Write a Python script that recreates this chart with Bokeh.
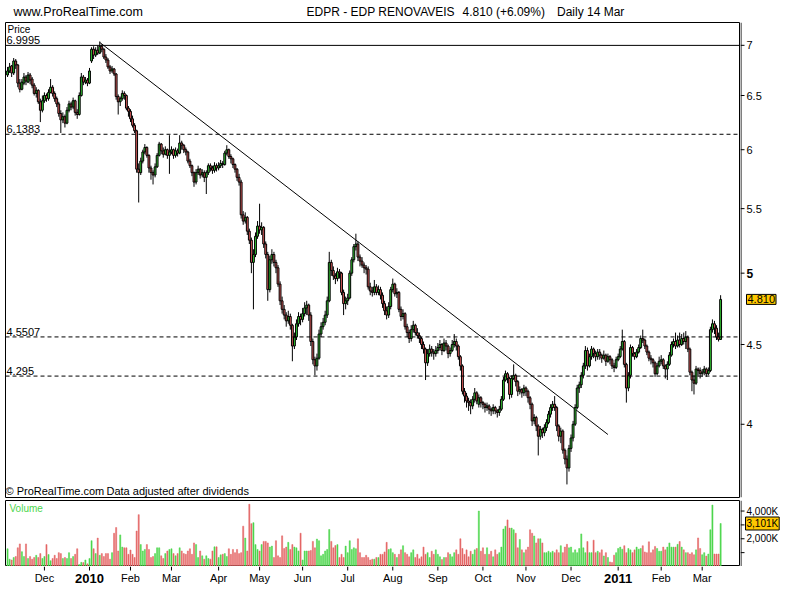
from bokeh.plotting import figure
from bokeh.layouts import column, row
from bokeh.models import Range1d, Span, Label
from bokeh.embed import file_html
from bokeh.resources import INLINE

# ---------------- data (EDPR daily, Nov 2009 - 14 Mar 2011) ----------------
opens = [
    6.70, 6.74, 6.79, 6.72, 6.84, 6.80, 6.62, 6.56, 6.62, 6.68, 6.63, 6.70, 6.66, 6.60, 6.52, 6.55, 6.44, 6.36,
    6.45, 6.50, 6.47, 6.53, 6.58, 6.52, 6.47, 6.42, 6.33, 6.27, 6.30, 6.24, 6.36, 6.42, 6.39, 6.45, 6.34, 6.32, 6.50, 6.68, 6.63, 6.65,
    6.62, 6.84, 6.96, 6.90, 6.95, 6.92, 6.99, 6.96, 6.88, 6.85, 6.78, 6.74, 6.76, 6.71, 6.49, 6.44, 6.47, 6.52, 6.50, 6.38,
    6.35, 6.28, 6.22, 6.17, 5.83, 5.80, 5.90, 5.98, 6.02, 5.95, 5.84, 5.80, 5.78, 5.85, 5.95, 6.05, 5.99, 5.96, 6.00, 5.95,
    5.98, 6.00, 5.95, 5.99, 5.97, 6.06, 6.04, 6.00, 5.98, 5.90, 5.86, 5.80, 5.72, 5.80, 5.83, 5.78, 5.80, 5.76, 5.80, 5.86, 5.84, 5.82, 5.86,
    5.84, 5.86, 5.88, 5.87, 5.97, 6.00, 5.94, 5.92, 5.87, 5.83, 5.76, 5.72, 5.45, 5.40, 5.43, 5.32, 5.25, 5.08, 5.14, 5.28,
    5.36, 5.33, 5.35, 5.22, 5.14, 4.88, 5.10, 5.14, 5.08, 5.04, 4.92, 4.80, 4.74, 4.70, 4.66, 4.69, 4.63, 4.49, 4.55, 4.64, 4.69,
    4.67, 4.71, 4.75, 4.77, 4.70, 4.52, 4.40, 4.36, 4.41, 4.57, 4.62, 4.65, 4.70, 4.80, 5.08, 5.02, 4.98, 4.96, 5.01, 5.00, 4.86, 4.78,
    4.80, 4.82, 5.00, 5.10, 5.20, 5.22, 5.12, 5.09, 5.06, 5.04, 5.03, 4.90, 4.87, 4.86, 4.90, 4.86, 4.88, 4.84, 4.78, 4.73, 4.70, 4.76,
    4.88, 4.92, 4.85, 4.86, 4.74, 4.69, 4.71, 4.62, 4.58, 4.54, 4.60, 4.63, 4.58, 4.56, 4.54, 4.50, 4.47, 4.38, 4.44, 4.47, 4.45, 4.44,
    4.46, 4.48, 4.50, 4.46, 4.51, 4.49, 4.44, 4.46, 4.50, 4.52, 4.49, 4.42, 4.36, 4.20, 4.17, 4.14, 4.13, 4.11, 4.15, 4.19, 4.12, 4.16,
    4.13, 4.12, 4.10, 4.11, 4.09, 4.08, 4.10, 4.08, 4.07, 4.09, 4.15, 4.27, 4.31, 4.28, 4.18, 4.28, 4.30, 4.26, 4.20, 4.21, 4.19,
    4.22, 4.20, 4.16, 4.12, 4.02, 4.04, 3.99, 3.93, 3.97, 3.95, 3.98, 4.01, 4.06, 4.10, 4.12, 4.10, 3.99, 3.93, 3.96, 3.85, 3.80, 3.75,
    3.86, 3.92, 4.00, 4.10, 4.22, 4.24, 4.30, 4.36, 4.46, 4.36, 4.42, 4.47, 4.44, 4.42, 4.45, 4.43, 4.41, 4.43, 4.39, 4.42, 4.40, 4.36, 4.35,
    4.40, 4.42, 4.47, 4.52, 4.37, 4.22, 4.30, 4.48, 4.44, 4.42, 4.45, 4.48, 4.54, 4.53, 4.49, 4.45, 4.41, 4.40, 4.38, 4.31, 4.36,
    4.39, 4.40, 4.36, 4.34, 4.37, 4.43, 4.50, 4.52, 4.49, 4.53, 4.50, 4.54, 4.52, 4.55, 4.47, 4.32, 4.27, 4.25, 4.34, 4.33,
    4.31, 4.32, 4.34, 4.31, 4.33, 4.60, 4.64, 4.61, 4.55, 4.534,
]
highs = [
    6.78, 6.82, 6.80, 6.87, 6.86, 6.81, 6.66, 6.66, 6.72, 6.70, 6.73, 6.72, 6.68, 6.62, 6.58, 6.56, 6.47, 6.50,
    6.53, 6.52, 6.56, 6.66, 6.60, 6.54, 6.49, 6.44, 6.36, 6.34, 6.32, 6.39, 6.45, 6.44, 6.48, 6.46, 6.37, 6.53, 6.72, 6.70, 6.68, 6.67,
    6.77, 6.98, 6.99, 6.98, 7.00, 7.04, 7.01, 6.97, 6.91, 6.87, 6.80, 6.79, 6.77, 6.72, 6.51, 6.49, 6.55, 6.54, 6.51, 6.40,
    6.37, 6.31, 6.24, 6.18, 5.88, 5.93, 6.00, 6.05, 6.03, 5.96, 5.86, 5.82, 5.88, 5.97, 6.07, 6.06, 6.02, 6.03, 6.01, 6.13,
    6.03, 6.01, 6.02, 6.01, 6.13, 6.08, 6.05, 6.02, 5.99, 5.92, 5.87, 5.81, 5.83, 5.86, 5.84, 5.83, 5.82, 5.82, 5.88, 5.88, 5.86, 5.89, 5.88,
    5.89, 5.91, 5.90, 5.99, 6.04, 6.01, 5.96, 5.93, 5.88, 5.84, 5.79, 5.74, 5.48, 5.47, 5.44, 5.34, 5.27, 5.18, 5.31, 5.40,
    5.54, 5.39, 5.36, 5.24, 5.16, 5.13, 5.18, 5.16, 5.10, 5.06, 4.94, 4.83, 4.77, 4.72, 4.73, 4.71, 4.64, 4.58, 4.67, 4.72, 4.71,
    4.75, 4.79, 4.80, 4.78, 4.72, 4.54, 4.42, 4.44, 4.60, 4.65, 4.68, 4.73, 4.83, 5.16, 5.10, 5.05, 5.00, 5.04, 5.03, 5.01, 4.88, 4.83,
    4.85, 5.02, 5.12, 5.22, 5.30, 5.24, 5.14, 5.12, 5.08, 5.06, 5.05, 4.93, 4.90, 4.95, 4.92, 4.91, 4.90, 4.86, 4.80, 4.76, 4.79, 4.90,
    4.96, 4.93, 4.89, 4.87, 4.76, 4.74, 4.72, 4.64, 4.60, 4.63, 4.66, 4.64, 4.61, 4.58, 4.55, 4.52, 4.48, 4.47, 4.50, 4.49, 4.47, 4.49,
    4.51, 4.53, 4.51, 4.54, 4.53, 4.50, 4.48, 4.53, 4.57, 4.54, 4.50, 4.43, 4.37, 4.22, 4.19, 4.16, 4.15, 4.17, 4.22, 4.20, 4.18, 4.17,
    4.14, 4.13, 4.13, 4.12, 4.10, 4.12, 4.11, 4.09, 4.11, 4.17, 4.29, 4.33, 4.32, 4.29, 4.30, 4.37, 4.31, 4.27, 4.23, 4.22, 4.24,
    4.23, 4.21, 4.17, 4.13, 4.06, 4.05, 4.00, 3.99, 3.98, 4.00, 4.03, 4.08, 4.12, 4.14, 4.17, 4.11, 4.00, 3.98, 3.97, 3.86, 3.82, 3.88,
    3.94, 4.02, 4.12, 4.24, 4.26, 4.32, 4.38, 4.49, 4.48, 4.44, 4.49, 4.48, 4.46, 4.47, 4.47, 4.44, 4.46, 4.44, 4.44, 4.43, 4.41, 4.38, 4.42,
    4.44, 4.49, 4.60, 4.53, 4.38, 4.32, 4.50, 4.49, 4.45, 4.47, 4.50, 4.56, 4.60, 4.54, 4.50, 4.46, 4.43, 4.41, 4.39, 4.38, 4.42,
    4.43, 4.41, 4.37, 4.39, 4.45, 4.52, 4.54, 4.58, 4.56, 4.58, 4.57, 4.58, 4.59, 4.56, 4.48, 4.33, 4.30, 4.36, 4.35, 4.35,
    4.34, 4.36, 4.35, 4.35, 4.62, 4.67, 4.66, 4.63, 4.58, 4.84,
]
lows = [
    6.68, 6.72, 6.68, 6.70, 6.76, 6.58, 6.53, 6.55, 6.60, 6.60, 6.62, 6.61, 6.57, 6.50, 6.48, 6.42, 6.25, 6.34,
    6.43, 6.44, 6.45, 6.52, 6.49, 6.44, 6.39, 6.30, 6.15, 6.24, 6.20, 6.23, 6.34, 6.36, 6.37, 6.31, 6.28, 6.31, 6.49, 6.60, 6.61, 6.59,
    6.61, 6.82, 6.86, 6.88, 6.90, 6.91, 6.93, 6.86, 6.82, 6.76, 6.71, 6.72, 6.69, 6.46, 6.32, 6.40, 6.45, 6.46, 6.36, 6.30,
    6.25, 6.20, 6.15, 5.80, 5.55, 5.78, 5.88, 5.96, 5.93, 5.80, 5.74, 5.70, 5.76, 5.84, 5.94, 5.96, 5.93, 5.95, 5.92, 5.79,
    5.96, 5.92, 5.93, 5.94, 5.96, 6.00, 5.97, 5.95, 5.88, 5.84, 5.77, 5.68, 5.70, 5.78, 5.75, 5.76, 5.72, 5.62, 5.78, 5.81, 5.79, 5.80, 5.81,
    5.82, 5.84, 5.84, 5.86, 5.95, 5.92, 5.88, 5.84, 5.80, 5.73, 5.69, 5.42, 5.37, 5.38, 5.29, 5.22, 5.00, 4.74, 5.12, 5.26,
    5.30, 5.29, 5.19, 5.11, 4.80, 4.86, 5.07, 5.05, 5.00, 4.90, 4.77, 4.71, 4.67, 4.62, 4.64, 4.60, 4.39, 4.47, 4.53, 4.62, 4.63,
    4.65, 4.69, 4.70, 4.66, 4.49, 4.37, 4.30, 4.33, 4.40, 4.55, 4.60, 4.63, 4.68, 4.79, 4.98, 4.95, 4.92, 4.94, 4.96, 4.84, 4.70, 4.74,
    4.77, 4.81, 4.98, 5.08, 5.17, 5.09, 5.05, 5.04, 5.00, 4.99, 4.88, 4.84, 4.83, 4.84, 4.84, 4.84, 4.81, 4.75, 4.70, 4.67, 4.68, 4.74,
    4.86, 4.83, 4.82, 4.72, 4.66, 4.67, 4.60, 4.55, 4.51, 4.52, 4.58, 4.56, 4.54, 4.51, 4.47, 4.44, 4.27, 4.36, 4.42, 4.42, 4.40, 4.42,
    4.44, 4.46, 4.43, 4.45, 4.46, 4.41, 4.42, 4.45, 4.48, 4.46, 4.40, 4.33, 4.18, 4.13, 4.10, 4.08, 4.06, 4.09, 4.13, 4.12, 4.10, 4.10,
    4.09, 4.07, 4.08, 4.06, 4.05, 4.06, 4.06, 4.04, 4.05, 4.08, 4.14, 4.26, 4.25, 4.15, 4.16, 4.27, 4.23, 4.17, 4.18, 4.16, 4.17,
    4.17, 4.13, 4.09, 3.99, 4.00, 3.96, 3.82, 3.91, 3.92, 3.93, 3.96, 4.00, 4.04, 4.08, 4.08, 3.96, 3.90, 3.89, 3.83, 3.77, 3.66, 3.73,
    3.84, 3.90, 3.99, 4.09, 4.19, 4.22, 4.28, 4.34, 4.33, 4.35, 4.40, 4.41, 4.39, 4.40, 4.40, 4.38, 4.40, 4.36, 4.38, 4.37, 4.34, 4.32, 4.34,
    4.39, 4.41, 4.46, 4.35, 4.13, 4.20, 4.28, 4.42, 4.40, 4.41, 4.44, 4.47, 4.51, 4.47, 4.43, 4.39, 4.37, 4.35, 4.29, 4.30, 4.35,
    4.37, 4.34, 4.28, 4.27, 4.36, 4.42, 4.48, 4.47, 4.48, 4.48, 4.49, 4.50, 4.47, 4.45, 4.30, 4.20, 4.18, 4.24, 4.29, 4.28,
    4.29, 4.30, 4.29, 4.30, 4.32, 4.58, 4.57, 4.53, 4.52, 4.53,
]
closes = [
    6.74, 6.78, 6.72, 6.84, 6.80, 6.62, 6.56, 6.63, 6.68, 6.64, 6.70, 6.65, 6.60, 6.52, 6.55, 6.44, 6.36, 6.45,
    6.50, 6.47, 6.53, 6.58, 6.52, 6.47, 6.42, 6.33, 6.27, 6.30, 6.24, 6.36, 6.42, 6.39, 6.45, 6.34, 6.32, 6.50, 6.68, 6.63, 6.65, 6.62,
    6.74, 6.96, 6.90, 6.95, 6.92, 6.99, 6.96, 6.88, 6.85, 6.78, 6.74, 6.76, 6.71, 6.49, 6.44, 6.47, 6.52, 6.50, 6.38, 6.35,
    6.28, 6.22, 6.17, 5.83, 5.80, 5.90, 5.98, 6.02, 5.95, 5.84, 5.80, 5.78, 5.85, 5.95, 6.05, 5.99, 5.96, 6.00, 5.95, 5.98,
    6.00, 5.95, 5.99, 5.97, 6.06, 6.04, 6.00, 5.98, 5.90, 5.86, 5.80, 5.72, 5.80, 5.83, 5.78, 5.80, 5.76, 5.80, 5.86, 5.84, 5.82, 5.86, 5.84,
    5.86, 5.88, 5.87, 5.97, 6.00, 5.94, 5.92, 5.87, 5.83, 5.76, 5.72, 5.45, 5.40, 5.43, 5.32, 5.25, 5.08, 5.14, 5.28, 5.36,
    5.33, 5.35, 5.22, 5.14, 4.88, 5.10, 5.14, 5.08, 5.04, 4.92, 4.80, 4.74, 4.70, 4.66, 4.69, 4.63, 4.49, 4.55, 4.64, 4.69, 4.67,
    4.71, 4.75, 4.77, 4.70, 4.52, 4.40, 4.36, 4.41, 4.57, 4.62, 4.65, 4.70, 4.80, 5.08, 5.02, 4.98, 4.96, 5.01, 5.00, 4.86, 4.78, 4.80,
    4.82, 5.00, 5.10, 5.20, 5.22, 5.12, 5.09, 5.06, 5.04, 5.03, 4.90, 4.87, 4.86, 4.90, 4.86, 4.88, 4.84, 4.78, 4.73, 4.70, 4.76, 4.88,
    4.92, 4.85, 4.86, 4.74, 4.69, 4.71, 4.62, 4.58, 4.54, 4.60, 4.63, 4.58, 4.56, 4.54, 4.50, 4.47, 4.38, 4.44, 4.47, 4.45, 4.44, 4.46,
    4.48, 4.50, 4.46, 4.51, 4.49, 4.44, 4.46, 4.50, 4.52, 4.49, 4.42, 4.36, 4.20, 4.17, 4.14, 4.13, 4.11, 4.15, 4.19, 4.14, 4.16, 4.13,
    4.12, 4.10, 4.11, 4.09, 4.08, 4.10, 4.08, 4.07, 4.09, 4.15, 4.27, 4.31, 4.28, 4.18, 4.28, 4.30, 4.26, 4.20, 4.21, 4.19, 4.22,
    4.20, 4.16, 4.12, 4.02, 4.04, 3.99, 3.93, 3.97, 3.95, 3.98, 4.01, 4.06, 4.10, 4.12, 4.10, 3.99, 3.93, 3.96, 3.85, 3.80, 3.75, 3.86,
    3.92, 4.00, 4.10, 4.22, 4.24, 4.30, 4.36, 4.46, 4.36, 4.42, 4.47, 4.44, 4.42, 4.45, 4.43, 4.41, 4.43, 4.39, 4.42, 4.40, 4.36, 4.35, 4.40,
    4.42, 4.47, 4.52, 4.37, 4.22, 4.30, 4.48, 4.44, 4.42, 4.45, 4.48, 4.54, 4.53, 4.49, 4.45, 4.41, 4.40, 4.38, 4.31, 4.36, 4.39,
    4.40, 4.36, 4.34, 4.37, 4.43, 4.50, 4.52, 4.49, 4.53, 4.50, 4.54, 4.52, 4.55, 4.47, 4.32, 4.27, 4.25, 4.34, 4.33, 4.31,
    4.32, 4.34, 4.31, 4.33, 4.60, 4.64, 4.61, 4.55, 4.534, 4.81,
]
volumes_k = [
    1280, 530, 470, 650, 720, 1350, 1630, 1070, 720,
    1630, 580, 720, 530, 650, 810, 650, 930, 580, 720, 1580, 860, 420, 580, 810, 580, 1000, 930, 580,
    650, 580, 1000, 580, 720, 880, 1280, 140, 300, 280, 470, 190, 580, 1860, 1280, 930, 2050, 810, 930, 720,
    930, 930, 530, 1000, 2400, 2810, 1120, 2280, 1400, 1350, 1350, 880, 1190, 880, 650, 2560, 3740, 1580, 1120, 1230,
    1580, 1230, 650, 720, 930, 1350, 1350, 770, 580, 930, 1120, 1230, 1280, 930,
    770, 930, 1350, 1120, 930, 880, 1120, 1280, 880, 1700, 1580, 650, 1120, 770,
    530, 770, 580, 530, 1120, 1420, 1420, 650, 840, 880, 930, 720, 1280, 880, 1230, 1000, 1230, 930, 1000, 2910,
    2050, 1120, 4490, 3090, 3160, 1580, 1230, 1120, 1580, 1810, 1810, 1700, 1400, 1470, 650, 1860, 770, 650, 2210, 1300,
    1400, 1740, 1230, 1580, 1400, 1350, 1120, 2400, 470,
    1120, 1120, 1120, 1160, 1810, 1350, 1980, 1860, 770, 880, 1120, 1230, 2670, 1810, 1350, 1510, 1580, 650, 880,
    650, 1470, 1000, 1860, 1230, 1350, 1280, 2000, 1000, 650, 650, 810, 650, 470,
    530, 530, 650, 650, 880, 880, 1050, 1740, 1230, 1280, 1000, 880,
    650, 880, 1200, 1500, 1000, 880, 700, 1000, 1200, 650, 880, 560, 700, 1400, 880, 1000, 650, 1100, 880, 1200,
    880, 700, 500, 650, 650, 1000, 880, 700, 1000, 1200, 880, 2000, 1300, 880, 1200, 700, 1100, 880, 1200, 1300, 4000, 1100,
    1350, 880, 1350, 880, 1100, 700, 1200, 880, 1000, 1400, 2700, 2900, 3360, 2770, 2770, 2650, 2400, 1350, 1950, 1200, 1000,
    1200, 1400, 2650, 2400, 2200, 1700, 2000, 2000, 1700, 1000, 1000, 1100, 1000, 1100, 1000, 1200, 1000, 1500, 1000, 1400, 1600, 1350,
    1400, 1000, 1200, 1000, 1300, 2350, 1350, 1000, 1800, 1000, 1000, 1900, 1000, 1100, 1000, 1200, 760, 1000, 650, 330, 290, 820, 1000,
    1300, 1400, 1250, 1500, 1000, 1300, 1200, 1000, 1200, 1400, 1250, 1300, 1500, 1050, 1000, 1780, 1000, 1200, 1450, 1300, 1100,
    1100, 1400, 1200, 1400, 1700, 1400, 1400, 1400, 1600, 1800, 1400, 1200, 1000, 1000, 900, 1000, 850, 1200, 2060, 1300,
    850, 1000, 750, 900, 2650, 4430, 900, 900, 900, 3101,
]
month_ticks = [18, 40, 60, 80, 103, 123, 144, 166, 188, 210, 232, 253, 275, 298, 319, 339]
month_labels = ["Dec", "2010", "Feb", "Mar", "Apr", "May", "Jun", "Jul", "Aug", "Sep",
                "Oct", "Nov", "Dec", "2011", "Feb", "Mar"]
year_labels = ["2010", "2011"]
price_ticks = [4, 4.5, 5, 5.5, 6, 6.5, 7]
price_tick_labels = ["4", "4.5", "5", "5.5", "6", "6.5", "7"]
solid_level = 6.9995
dashed_levels = [6.1383, 4.5507, 4.295]
level_texts = ["6.9995", "6.1383", "4.5507", "4.295"]
trend_x = [45, 293]
trend_y = [7.03, 3.94]
vol_ticks_k = [1000, 2000, 3000, 4000]
vol_tick_labels = ["", "2,000K", "", "4,000K"]
last_price_text = "4.810"
last_volume_text = "3,101K"
title_left = "www.ProRealTime.com"
title_parts = ["EDPR - EDP RENOVAVEIS", "4.810 (+6.09%)", "Daily  14 Mar"]

# ---------------- styling / geometry ----------------
FONT = "Liberation Sans"
C_UP = "#33CC33"
C_DN = "#E05C5C"
V_UP = "#4CD64C"
V_DN = "#E46666"
BOX = "#FFC800"

TOTAL_W = 784
LEFT_W = 740      # left column width (frame starts 5 px in)
AX_W = TOTAL_W - LEFT_W
TITLE_H = 22
P_H = 478         # price pane (frame 475 + 3 gap)
V_H = 66          # volume pane frame
X_H = 18          # month labels row

n = min(len(opens), len(highs), len(lows), len(closes), len(volumes_k))
idx = list(range(n))
o, h, l, c = opens[:n], highs[:n], lows[:n], closes[:n]
body_top = [max(a, b) for a, b in zip(o, c)]
body_bot = [min(a, b) for a, b in zip(o, c)]
cols = [C_UP if b >= a else C_DN for a, b in zip(o, c)]
vcols = [V_UP if b >= a else V_DN for a, b in zip(o, c)]


def blank(width, height, x_range, y_range, y_log=False, left=0, bottom=0, outline=False):
    f = figure(width=width, height=height, x_range=x_range, y_range=y_range,
               y_axis_type="log" if y_log else "linear",
               x_axis_location=None, y_axis_location=None,
               toolbar_location=None, output_backend="svg",
               min_border_left=left, min_border_right=0, min_border_top=0, min_border_bottom=bottom)
    f.grid.visible = False
    f.background_fill_color = "white"
    f.border_fill_color = "white"
    f.outline_line_color = "black" if outline else None
    return f


xr = Range1d(-1, 357.7)
pr = Range1d(3.59, 7.24)
vr = Range1d(0, 4760)

# ---------------- title row ----------------
t = blank(TOTAL_W, TITLE_H, Range1d(0, TOTAL_W), Range1d(0, TITLE_H))
t.add_layout(Label(x=8, y=11, text=title_left, text_baseline="middle",
                   text_font=FONT, text_font_size="12.5px", text_color="black"))
for xx, s in zip([303, 460, 555], title_parts):
    t.add_layout(Label(x=xx, y=11, text=s, text_baseline="middle",
                       text_font=FONT, text_font_size="12px", text_color="black"))

# ---------------- price pane ----------------
p1 = blank(LEFT_W, P_H, xr, pr, y_log=True, left=5, bottom=3, outline=True)
p1.add_layout(Span(location=solid_level, dimension="width", line_color="black", line_width=1))
for lv in dashed_levels:
    p1.add_layout(Span(location=lv, dimension="width", line_color="black", line_width=1, line_dash="4 3"))
for lv, tx in zip([solid_level] + dashed_levels, level_texts):
    p1.add_layout(Label(x=1, y=lv, x_units="screen", text=tx, text_baseline="bottom", y_offset=1,
                        text_font=FONT, text_font_size="11px", text_color="black"))
p1.line(trend_x, trend_y, line_color="black", line_width=1)
p1.segment(x0=idx, y0=l, x1=idx, y1=h, line_color="black", line_width=1)
p1.vbar(x=idx, bottom=body_bot, top=body_top, width=0.9, fill_color=cols, line_color="black", line_width=1)
p1.add_layout(Label(x=2, y=468, x_units="screen", y_units="screen", text="Price",
                    text_baseline="middle", text_font=FONT, text_font_size="10px", text_color="black"))
p1.add_layout(Label(x=0, y=7, x_units="screen", y_units="screen", text="\u00a9 ProRealTime.com",
                    text_baseline="middle", text_font=FONT, text_font_size="11px", text_color="black"))
p1.add_layout(Label(x=101, y=7, x_units="screen", y_units="screen", text="Data adjusted after dividends",
                    text_baseline="middle", text_font=FONT, text_font_size="11px", text_color="black"))

# price axis panel (right)
a1 = blank(AX_W, P_H, Range1d(0, AX_W), pr, y_log=True, bottom=3)
a1.segment(x0=[0] * len(price_ticks), y0=price_ticks, x1=[4] * len(price_ticks), y1=price_ticks,
           line_color="black", line_width=1)
a1.segment(x0=[0.5], y0=[pr.start], x1=[0.5], y1=[pr.end], line_color="black", line_width=1)
for tv, s in zip(price_ticks, price_tick_labels):
    bold = (s == "5")
    a1.add_layout(Label(x=6, y=tv, text=s, text_baseline="middle", text_font=FONT,
                        text_font_size="12px" if bold else "11px",
                        text_font_style="bold" if bold else "normal", text_color="black"))
a1.add_layout(Label(x=6, y=c[-1], text=last_price_text, text_baseline="middle", text_font=FONT,
                    text_font_size="11px", text_color="black", background_fill_color=BOX,
                    border_line_color="black", padding=1))

# ---------------- volume pane ----------------
p2 = blank(LEFT_W, V_H, xr, vr, left=5, outline=True)
p2.vbar(x=idx, bottom=0, top=volumes_k[:n], width=0.55, fill_color=vcols, line_color=vcols, line_width=0.5)
p2.add_layout(Label(x=4, y=V_H - 8, x_units="screen", y_units="screen", text="Volume",
                    text_baseline="middle", text_font=FONT, text_font_size="10px", text_color=V_UP))

a2 = blank(AX_W, V_H, Range1d(0, AX_W), vr)
a2.segment(x0=[0] * len(vol_ticks_k), y0=vol_ticks_k, x1=[4] * len(vol_ticks_k), y1=vol_ticks_k,
           line_color="black", line_width=1)
a2.segment(x0=[0.5], y0=[vr.start], x1=[0.5], y1=[vr.end], line_color="black", line_width=1)
for tv, s in zip(vol_ticks_k, vol_tick_labels):
    if s:
        a2.add_layout(Label(x=6, y=tv, text=s, text_baseline="middle", text_font=FONT,
                            text_font_size="10px", text_color="black"))
a2.add_layout(Label(x=5, y=volumes_k[n - 1], text=last_volume_text, text_baseline="middle", text_font=FONT,
                    text_font_size="10px", text_color="black", background_fill_color=BOX,
                    border_line_color="black", padding=1))

# ---------------- month labels row ----------------
xl = blank(LEFT_W, X_H, xr, Range1d(0, X_H), left=5)
xl.segment(x0=month_ticks, y0=[X_H] * len(month_ticks), x1=month_ticks, y1=[X_H - 4] * len(month_ticks),
           line_color="black", line_width=1)
for tv, s in zip(month_ticks, month_labels):
    bold = s in year_labels
    xl.add_layout(Label(x=tv, y=6.5, text=s, text_align="center", text_baseline="middle", text_font=FONT,
                        text_font_size="13px" if bold else "11px",
                        text_font_style="bold" if bold else "normal", text_color="black"))

layout = column(t, row(p1, a1), row(p2, a2), xl)
open("out.html", "w").write(file_html(layout, INLINE))
